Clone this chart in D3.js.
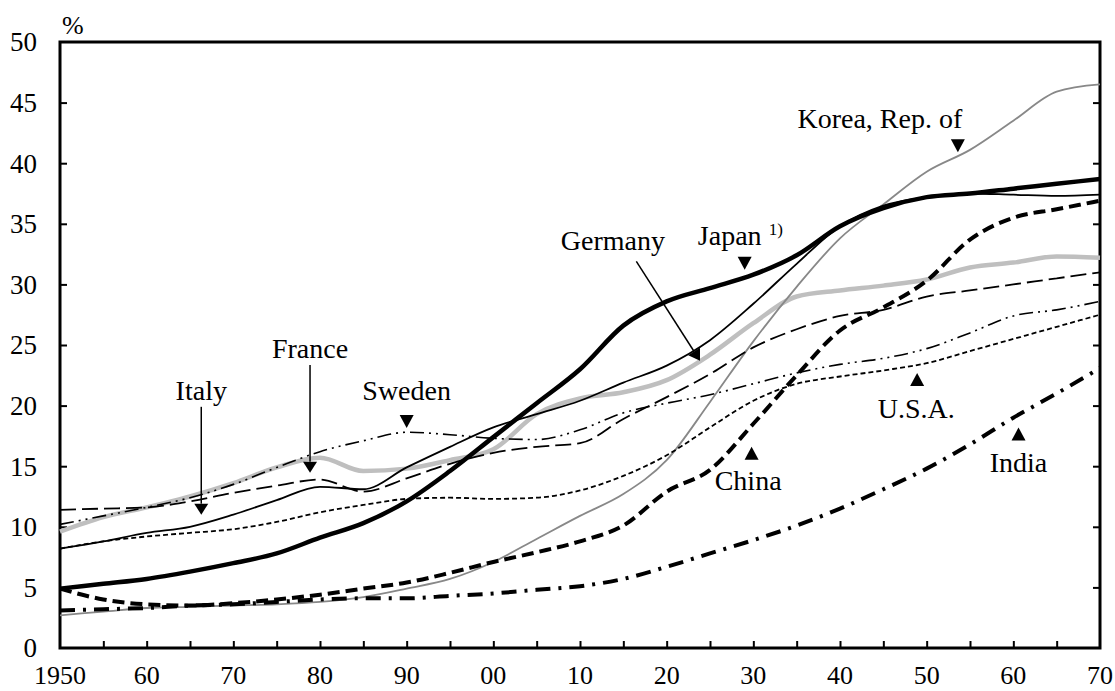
<!DOCTYPE html>
<html><head><meta charset="utf-8">
<script src="https://cdn.jsdelivr.net/npm/d3@7"></script>
<style>
html,body{margin:0;padding:0;background:#fff;}
svg text{font-family:"Liberation Serif","Times New Roman",Tinos,"DejaVu Serif",serif;}
</style></head>
<body><svg id="c" width="1115" height="691"></svg>
<script>
const years = d3.range(1950, 2071, 5);
const japan   = [4.9,5.3,5.7,6.3,7.0,7.8,9.1,10.3,12.1,14.6,17.4,20.2,23.0,26.6,28.6,29.7,30.8,32.4,34.8,36.3,37.2,37.5,37.9,38.3,38.7];
const korea   = [2.7,3.0,3.3,3.4,3.5,3.6,3.8,4.2,4.9,5.7,7.1,9.0,10.9,12.7,15.5,20.3,25.3,29.8,33.8,36.6,39.3,41.1,43.5,45.9,46.5];
const china   = [4.9,4.0,3.6,3.5,3.7,4.0,4.4,4.9,5.4,6.2,7.1,7.9,8.8,10.1,12.9,14.7,18.5,22.5,26.2,28.1,30.3,33.7,35.5,36.2,36.9];
const india   = [3.1,3.2,3.3,3.5,3.6,3.8,4.0,4.1,4.1,4.3,4.5,4.8,5.1,5.7,6.7,7.8,8.9,10.1,11.5,13.1,14.8,16.8,19.0,21.0,23.1];
const usa     = [8.2,8.8,9.2,9.5,9.8,10.4,11.2,11.8,12.3,12.4,12.3,12.4,13.0,14.2,15.9,18.2,20.4,21.8,22.4,22.9,23.5,24.5,25.5,26.5,27.5];
const sweden  = [10.2,10.9,11.6,12.4,13.5,14.9,16.2,17.1,17.8,17.6,17.3,17.2,18.0,19.4,20.2,20.9,21.8,22.7,23.4,23.9,24.7,26.0,27.4,27.9,28.6];
const italy   = [8.2,8.8,9.5,10.0,11.0,12.2,13.3,13.1,14.9,16.6,18.2,19.3,20.4,21.9,23.3,25.4,28.4,31.7,34.8,36.5,37.2,37.5,37.4,37.3,37.4];
const france  = [11.4,11.5,11.6,12.1,12.8,13.4,13.9,12.9,14.0,15.2,16.1,16.6,16.9,18.9,20.7,22.6,24.8,26.3,27.4,27.9,29.0,29.5,30.0,30.5,31.0];
const germany = [9.6,10.8,11.6,12.5,13.6,14.9,15.7,14.6,14.8,15.5,16.4,19.3,20.6,21.1,22.1,24.2,26.8,29.0,29.5,29.9,30.4,31.4,31.8,32.3,32.2];

const xTickLabels = ["1950","60","70","80","90","00","10","20","30","40","50","60","70"];
const yTicks = [0,5,10,15,20,25,30,35,40,45,50];

const series = [
  {name:"Germany", values:germany, color:"#bfbfbf", width:4.5, dash:null},
  {name:"Korea", values:korea, color:"#888888", width:1.8, dash:null},
  {name:"India", values:india, color:"#000", width:4, dash:"15,8,3,8"},
  {name:"China", values:china, color:"#000", width:4, dash:"12,6"},
  {name:"U.S.A.", values:usa, color:"#000", width:1.8, dash:"5,3"},
  {name:"Sweden", values:sweden, color:"#000", width:1.6, dash:"14,5,2,5,2,5"},
  {name:"France", values:france, color:"#000", width:1.8, dash:"16,6"},
  {name:"Italy", values:italy, color:"#000", width:1.8, dash:null},
  {name:"Japan", values:japan, color:"#000", width:4.5, dash:null}
];

const svg = d3.select("#c");
const x = d3.scaleLinear().domain([1950,2070]).range([60,1100]);
const y = d3.scaleLinear().domain([0,50]).range([648,42]);

svg.append("rect").attr("x",60).attr("y",42).attr("width",1040).attr("height",606)
  .attr("fill","none").attr("stroke","#000").attr("stroke-width",3);

const xAxis = d3.axisBottom(x).tickValues(d3.range(1955,2070,5)).tickSize(-7).tickFormat("");
svg.append("g").attr("transform","translate(0,648)").call(xAxis)
  .call(g=>{g.select(".domain").remove(); g.selectAll("line").attr("stroke-width",2);});
const yAxisL = d3.axisLeft(y).tickValues(yTicks.slice(1,-1)).tickSize(-7).tickFormat("");
svg.append("g").attr("transform","translate(60,0)").call(yAxisL)
  .call(g=>{g.select(".domain").remove(); g.selectAll("line").attr("stroke-width",2);});
const yAxisR = d3.axisRight(y).tickValues(yTicks.slice(1,-1)).tickSize(-7).tickFormat("");
svg.append("g").attr("transform","translate(1100,0)").call(yAxisR)
  .call(g=>{g.select(".domain").remove(); g.selectAll("line").attr("stroke-width",2);});

svg.append("g").selectAll("text").data(yTicks).join("text")
  .attr("x",37).attr("y",d=>y(d)).attr("dy","0.35em").attr("text-anchor","end")
  .attr("font-size",27).text(d=>d);
svg.append("g").selectAll("text").data(xTickLabels).join("text")
  .attr("x",(d,i)=>x(1950+i*10)).attr("y",684).attr("text-anchor","middle")
  .attr("font-size",26).text(d=>d);
svg.append("text").attr("x",62).attr("y",34).attr("font-size",26).text("%");

const line = d3.line().x((d,i)=>x(years[i])).y(d=>y(d)).curve(d3.curveMonotoneX);
svg.append("g").selectAll("path").data(series).join("path")
  .attr("d",d=>line(d.values)).attr("fill","none")
  .attr("stroke",d=>d.color).attr("stroke-width",d=>d.width)
  .attr("stroke-dasharray",d=>d.dash).attr("stroke-linejoin","round");

const fs = 28;
function label(t, yr, v){
  return svg.append("text").attr("x",x(yr)).attr("y",y(v)).attr("text-anchor","middle")
    .attr("font-size",fs).text(t);
}
function tri(yr, v, dir){
  const cx=x(yr), ty=y(v), h=13, w=14;
  const by = ty - dir*h;
  svg.append("path").attr("d",`M${cx},${ty}L${cx-w/2},${by}L${cx+w/2},${by}Z`).attr("fill","#000");
}
function arrow(y1,v1,y2,v2){
  const x1=x(y1), yy1=y(v1), x2=x(y2), yy2=y(v2);
  const ang=Math.atan2(yy2-yy1,x2-x1), L=11, W=7;
  const bx=x2-L*Math.cos(ang), by=yy2-L*Math.sin(ang);
  svg.append("line").attr("x1",x1).attr("y1",yy1).attr("x2",bx).attr("y2",by)
    .attr("stroke","#000").attr("stroke-width",1.5);
  const px=-Math.sin(ang)*W, py=Math.cos(ang)*W;
  svg.append("path").attr("d",`M${x2},${yy2}L${bx+px},${by+py}L${bx-px},${by-py}Z`).attr("fill","#000");
}
label("Italy",1966.3,20.46); arrow(1966.3,19.9,1966.3,11.0);
label("France",1978.85,23.9); arrow(1978.85,23.35,1978.85,14.45);
label("Sweden",1990.0,20.46); tri(1990.0,18.15,1);
label("Germany",2013.8,32.8); arrow(2016.5,31.9,2023.85,23.7);
const jp = svg.append("text").attr("x",x(2028.5)).attr("y",y(33.25)).attr("text-anchor","middle").attr("font-size",fs);
jp.append("tspan").text("Japan ");
jp.append("tspan").attr("font-size",17).attr("dy",-10).text("1)");
tri(2029.0,31.2,1);
label("Korea, Rep. of",2044.6,42.9); tri(2053.6,40.9,1);
label("China",2029.4,13.0); tri(2029.8,16.6,-1);
label("U.S.A.",2048.8,19.0); tri(2048.9,22.7,-1);
label("India",2060.6,14.5); tri(2060.6,18.2,-1);
</script></body></html>
